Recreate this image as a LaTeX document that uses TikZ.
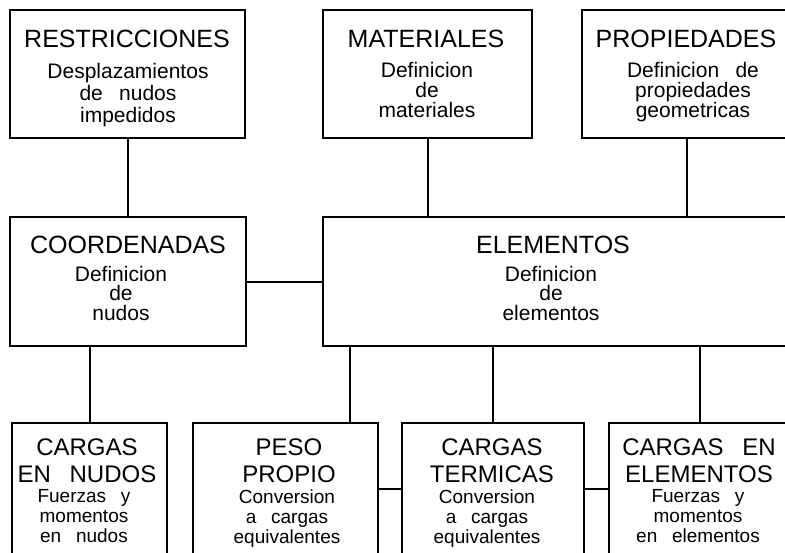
\documentclass[tikz,border=0pt]{standalone}
\usepackage{fontspec}
\setmainfont{Liberation Sans}[WordSpace=2.8]
\begin{document}
\begin{tikzpicture}[x=1pt,y=-1pt,
  box/.style={draw, line width=2pt, inner sep=0pt, outer sep=0pt, anchor=north west},
  link/.style={line width=2pt},
  hd/.style={inner sep=0pt, font=\fontsize{25}{27}\selectfont, anchor=base},
  hdb/.style={inner sep=0pt, font=\fontsize{24}{27}\selectfont, align=center, anchor=north},
  bdA/.style={inner sep=0pt, font=\fontsize{21}{22}\selectfont, align=center, anchor=north},
  bdB/.style={inner sep=0pt, font=\fontsize{21}{20}\selectfont, align=center, anchor=north},
  bdC/.style={inner sep=0pt, font=\fontsize{21}{19.5}\selectfont, align=center, anchor=north},
  bdD/.style={inner sep=0pt, font=\fontsize{19}{20}\selectfont, align=center, anchor=north}]
\useasboundingbox (0,0) rectangle (785,552);
\clip (0,0) rectangle (785,552);
\fill[white] (0,0) rectangle (785,552);
% boxes
\node[box, minimum width=235, minimum height=128] (restr) at (10,10) {};
\node[box, minimum width=209, minimum height=128] (mat) at (323,10) {};
\node[box, minimum width=210, minimum height=128] (prop) at (582,10) {};
\node[box, minimum width=236, minimum height=129] (coord) at (10,217) {};
\node[box, minimum width=466, minimum height=129] (elem) at (323,217) {};
\node[box, minimum width=155, minimum height=132] (nudos) at (12,423) {};
\node[box, minimum width=185, minimum height=132] (peso) at (193,423) {};
\node[box, minimum width=182, minimum height=132] (term) at (402,423) {};
\node[box, minimum width=182, minimum height=132] (celem) at (609,423) {};
% texts
\node[hd] (restrH) at (127,47) {RESTRICCIONES};
\node[bdA] (restrB) at (128,63) {Desplazamientos\\de nudos\\impedidos};
\node[hd] (matH) at (426,47) {MATERIALES};
\node[bdB] (matB) at (427,62) {Definicion\\de\\materiales};
\node[hd] (propH) at (686,47) {PROPIEDADES};
\node[bdB] (propB) at (693,62) {Definicion de\\propiedades\\geometricas};
\node[hd] (coordH) at (128,253) {COORDENADAS};
\node[bdC] (coordB) at (121,266) {Definicion\\de\\nudos};
\node[hd] (elemH) at (553,253) {ELEMENTOS};
\node[bdC] (elemB) at (551,266) {Definicion\\de\\elementos};
\node[hdb] (nudosH) at (87,439) {CARGAS\\EN NUDOS};
\node[bdD] (nudosB) at (84,489.5) {Fuerzas y\\momentos\\en nudos};
\node[hdb] (pesoH) at (289,439) {PESO\\PROPIO};
\node[bdD] (pesoB) at (287,489.5) {Conversion\\a cargas\\equivalentes};
\node[hdb] (termH) at (492,439) {CARGAS\\TERMICAS};
\node[bdD] (termB) at (487,489.5) {Conversion\\a cargas\\equivalentes};
\node[hdb] (celemH) at (699,439) {CARGAS EN\\ELEMENTOS};
\node[bdD] (celemB) at (698,489.5) {Fuerzas y\\momentos\\en elementos};
% connectors
\coordinate (e1) at ([xshift=27pt]elem.south west);
\draw[link] (restr.south) -- (restr.south |- coord.north);
\draw[link] (mat.south) -- (mat.south |- elem.north);
\draw[link] (prop.south) -- (prop.south |- elem.north);
\draw[link] (coord.east) -- (elem.west);
\draw[link] (nudos.north) -- (nudos.north |- coord.south);
\draw[link] (e1) -- (e1 |- peso.north);
\draw[link] (term.north) -- (term.north |- elem.south);
\draw[link] (celem.north) -- (celem.north |- elem.south);
\draw[link] (peso.east) -- (term.west);
\draw[link] (term.east) -- (celem.west);
\end{tikzpicture}
\end{document}
